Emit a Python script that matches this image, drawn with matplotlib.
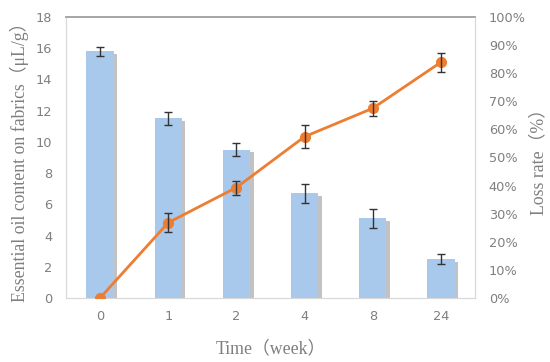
import matplotlib
matplotlib.use("Agg")
import matplotlib.pyplot as plt
import matplotlib.patheffects as pe
import matplotlib.ticker as mticker
import numpy as np

weeks = ["0", "1", "2", "4", "8", "24"]
content = [15.8, 11.5, 9.5, 6.7, 5.1, 2.5]
content_err = [0.3, 0.4, 0.4, 0.6, 0.6, 0.3]
loss = [0.0, 26.8, 39.3, 57.4, 67.5, 83.9]
loss_err = [0.0, 3.5, 2.5, 4.0, 2.6, 3.4]

C_BAR = "#a9c9ec"
C_LINE = "#ed7d31"
C_TICK = "#7f7f7f"
C_ERR = "#333333"
SERIF = ["Liberation Serif", "Noto Sans CJK SC"]

fig = plt.figure(figsize=(5.5, 3.62), dpi=100)
ax = fig.add_axes([0.12, 0.177, 0.7436, 0.776])
ax2 = ax.twinx()

xs = np.arange(len(weeks))
shadow = [pe.SimplePatchShadow(offset=(2.5, -2), shadow_rgbFace="#909090", alpha=0.55), pe.Normal()]
bars = ax.bar(xs, content, width=0.4, color=C_BAR, edgecolor="none", zorder=2)
for b in bars:
    b.set_path_effects(shadow)
ax.errorbar(xs, content, yerr=content_err, fmt="none", ecolor=C_ERR,
            elinewidth=1, capsize=3, capthick=1, zorder=3)

ax2.plot(xs, loss, color=C_LINE, lw=2, marker="o", ms=7, zorder=4)
ax2.errorbar(xs[1:], loss[1:], yerr=loss_err[1:], fmt="none", ecolor=C_ERR,
             elinewidth=1, capsize=3, capthick=1, zorder=5)

ax.set_xlim(-0.5, len(weeks) - 0.5)
ax.set_ylim(0, 18)
ax.set_yticks(np.arange(0, 19, 2))
ax2.set_ylim(0, 100)
ax2.set_yticks(np.arange(0, 101, 10))
ax2.yaxis.set_major_formatter(mticker.FuncFormatter(lambda v, _: f"{v:.0f}%"))
ax.set_xticks(xs)
ax.set_xticklabels(weeks)

for a in (ax, ax2):
    a.tick_params(length=0, labelsize=9.3, colors=C_TICK)
    for s in a.spines.values():
        s.set_color("#d9d9d9")
        s.set_linewidth(0.8)
    a.spines["top"].set_color("#a6a6a6")
    a.spines["top"].set_linewidth(1.2)
ax.tick_params(axis="y", pad=10)
ax.tick_params(axis="x", pad=9)
ax2.tick_params(axis="y", pad=10)
ax.set_zorder(1)
ax2.set_zorder(2)

ax.set_ylabel("Essential oil content on fabrics（μL/g）", family=SERIF,
              fontsize=12.8, color=C_TICK, labelpad=5)
ax2.set_ylabel("Loss rate（%）", family=SERIF, fontsize=12.8, color=C_TICK, labelpad=3)
ax.set_xlabel("Time（week）", family=SERIF, fontsize=12.8, color=C_TICK, labelpad=12)

fig.savefig("out.png", dpi=100)
